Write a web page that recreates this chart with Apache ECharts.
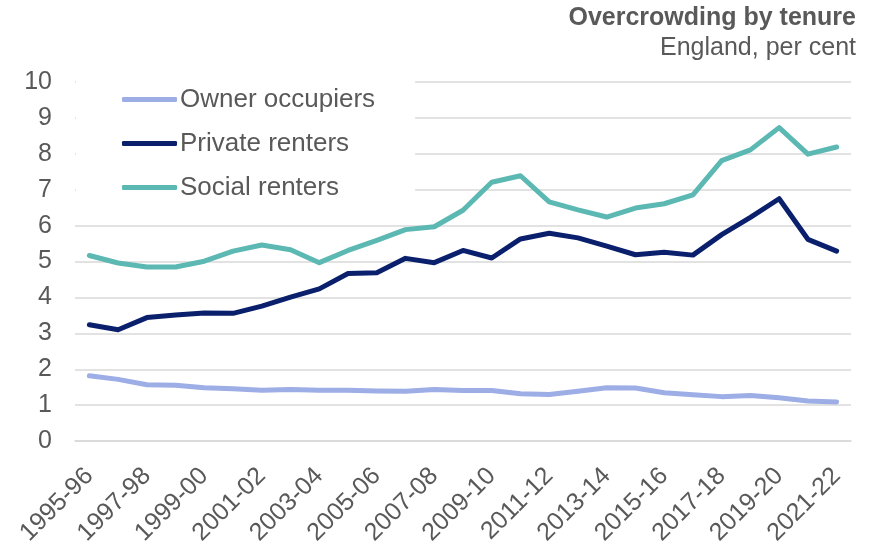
<!DOCTYPE html>
<html>
<head>
<meta charset="utf-8">
<script src="https://cdn.jsdelivr.net/npm/echarts@6/dist/echarts.min.js"></script>
<style>
html,body{margin:0;padding:0;background:#fff;}
#chart{width:874px;height:548px;}
</style>
</head>
<body>
<div id="chart"></div>
<script>
const categories = ["1995-96","1996-97","1997-98","1998-99","1999-00","2000-01","2001-02","2002-03","2003-04","2004-05","2005-06","2006-07","2007-08","2008-09","2009-10","2010-11","2011-12","2012-13","2013-14","2014-15","2015-16","2016-17","2017-18","2018-19","2019-20","2020-21","2021-22"];
const ownerOccupiers = [1.82,1.72,1.57,1.56,1.49,1.46,1.42,1.44,1.42,1.42,1.40,1.39,1.44,1.41,1.41,1.32,1.30,1.39,1.49,1.48,1.35,1.29,1.24,1.27,1.21,1.12,1.09];
const privateRenters = [3.24,3.10,3.44,3.51,3.57,3.56,3.76,4.01,4.24,4.67,4.69,5.09,4.97,5.31,5.10,5.63,5.79,5.66,5.43,5.19,5.26,5.18,5.75,6.23,6.75,5.62,5.29];
const socialRenters = [5.17,4.96,4.85,4.85,5.01,5.29,5.46,5.33,4.97,5.31,5.59,5.89,5.97,6.43,7.21,7.39,6.66,6.44,6.24,6.49,6.61,6.86,7.81,8.11,8.73,7.99,8.19];
const seriesNames = ["Owner occupiers","Private renters","Social renters"];
const colors = ["#9DADE5","#0A206C","#5BB8B2"];
const titleText = "Overcrowding by tenure";
const subtitleText = "England, per cent";

const chart = echarts.init(document.getElementById('chart'));
const font = "Liberation Sans, Arial, sans-serif";
const txt = "#595959";
const data = [ownerOccupiers, privateRenters, socialRenters];
chart.setOption({
  animation: false,
  backgroundColor: "#fff",
  title: [
    {
      text: titleText,
      right: 18, top: 6, padding: 0,
      textStyle: {fontFamily: font, fontSize: 25, fontWeight: "bold", color: txt}
    },
    {
      text: subtitleText,
      right: 18, top: 36, padding: 0,
      textStyle: {fontFamily: font, fontSize: 25, fontWeight: "normal", color: txt}
    }
  ],
  legend: {
    orient: "vertical",
    left: 76, top: 78,
    padding: [8, 40, 14, 46],
    backgroundColor: "#fff",
    itemWidth: 55, itemHeight: 5, itemGap: 17,
    icon: "roundRect",
    textStyle: {fontFamily: font, fontSize: 26, color: txt, lineHeight: 27, padding: [0,0,0,-2]},
    data: seriesNames
  },
  grid: {left: 75, right: 23, top: 82, bottom: 104, containLabel: false},
  xAxis: {
    type: "category",
    data: categories,
    boundaryGap: true,
    axisLine: {lineStyle: {color: "#D9D9D9", width: 1.5}},
    axisTick: {show: false},
    axisLabel: {rotate: 45, interval: 1, margin: 31, fontFamily: font, fontSize: 25, color: txt}
  },
  yAxis: {
    type: "value", min: 0, max: 10, interval: 1,
    axisLine: {show: false}, axisTick: {show: false},
    splitLine: {lineStyle: {color: "#D9D9D9", width: 1.5}},
    axisLabel: {margin: 23, fontFamily: font, fontSize: 25, color: txt}
  },
  series: data.map((d, i) => ({
    name: seriesNames[i],
    type: "line",
    data: d,
    symbol: "none",
    color: colors[i],
    lineStyle: {width: 5, color: colors[i], join: "round", cap: "round"},
    z: 2 + i
  }))
});
</script>
</body>
</html>
